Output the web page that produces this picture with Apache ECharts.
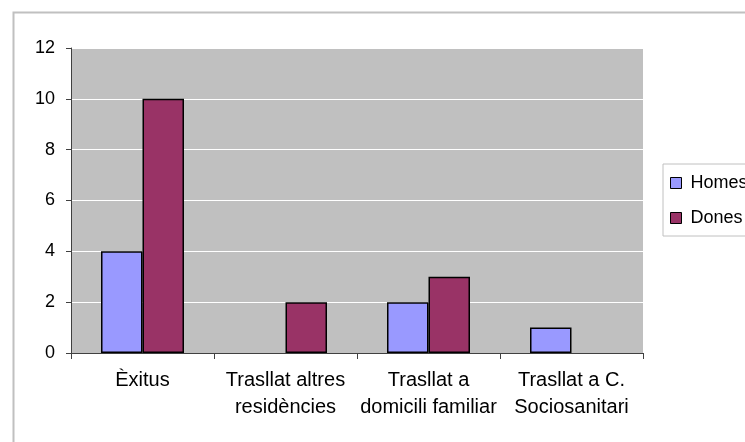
<!DOCTYPE html>
<html>
<head>
<meta charset="utf-8">
<script src="https://cdn.jsdelivr.net/npm/echarts@6/dist/echarts.min.js"></script>
<style>
  html, body { margin: 0; padding: 0; background: #fff; }
  #chart { width: 745px; height: 442px; }
</style>
</head>
<body>
<div id="chart"></div>
<script>
// categories and values
const categories = ["Èxitus", "Trasllat altres\nresidències", "Trasllat a\ndomicili familiar", "Trasllat a C.\nSociosanitari"];
const homes = [4, 0, 2, 1];
const dones = [10, 2, 3, 0];
const seriesNames = ["Homes", "Dones"];
const yTicks = { min: 0, max: 12, interval: 2 };

const font = "Liberation Sans, Arial, sans-serif";
const chart = echarts.init(document.getElementById("chart"));

// zero values draw no bar in the original (no outline on the axis)
const noZero = arr => arr.map(v => (v === 0 ? "-" : v));

const option = {
  animation: false,
  backgroundColor: "#fff",
  // outer chart frame, cropped at right and bottom like the original
  graphic: [{
    type: "rect",
    left: 11,
    top: 10,
    shape: { width: 900, height: 600 },
    style: { fill: "none", stroke: "#c0c0c0", lineWidth: 2 },
    silent: true
  }],
  grid: {
    left: 71,
    right: 102,
    top: 48,
    bottom: 89,
    show: true,
    backgroundColor: "#c0c0c0",
    borderWidth: 0
  },
  legend: {
    orient: "vertical",
    left: 663,
    top: 164,
    padding: [10, 60, 9, 7],
    borderColor: "#c0c0c0",
    borderWidth: 1,
    itemWidth: 11,
    itemHeight: 11,
    itemGap: 17,
    icon: "rect",
    itemStyle: { borderColor: "#000", borderWidth: 1 },
    textStyle: { fontFamily: font, fontSize: 18, color: "#000", lineHeight: 18, padding: [0, 0, 0, 4] },
    data: seriesNames
  },
  xAxis: {
    type: "category",
    data: categories,
    axisLine: { lineStyle: { color: "#404040", width: 1 } },
    axisTick: { show: true, length: 6, lineStyle: { color: "#404040" } },
    axisLabel: {
      interval: 0,
      margin: 14,
      fontFamily: font,
      fontSize: 20,
      lineHeight: 27,
      color: "#000"
    }
  },
  yAxis: {
    type: "value",
    min: yTicks.min,
    max: yTicks.max,
    interval: yTicks.interval,
    axisLine: { show: true, lineStyle: { color: "#404040", width: 1 } },
    axisTick: { show: true, length: 5, lineStyle: { color: "#404040" } },
    axisLabel: { margin: 16, fontFamily: font, fontSize: 18, color: "#000" },
    splitLine: { show: true, lineStyle: { color: "#fff", width: 1 } }
  },
  series: [
    {
      name: seriesNames[0],
      type: "bar",
      data: noZero(homes),
      barWidth: 41.5,
      barGap: "0%",
      itemStyle: { color: "#9999ff", borderColor: "#000", borderWidth: 1.5 }
    },
    {
      name: seriesNames[1],
      type: "bar",
      data: noZero(dones),
      barWidth: 41.5,
      barGap: "0%",
      itemStyle: { color: "#993366", borderColor: "#000", borderWidth: 1.5 }
    }
  ]
};

chart.setOption(option);
</script>
</body>
</html>
